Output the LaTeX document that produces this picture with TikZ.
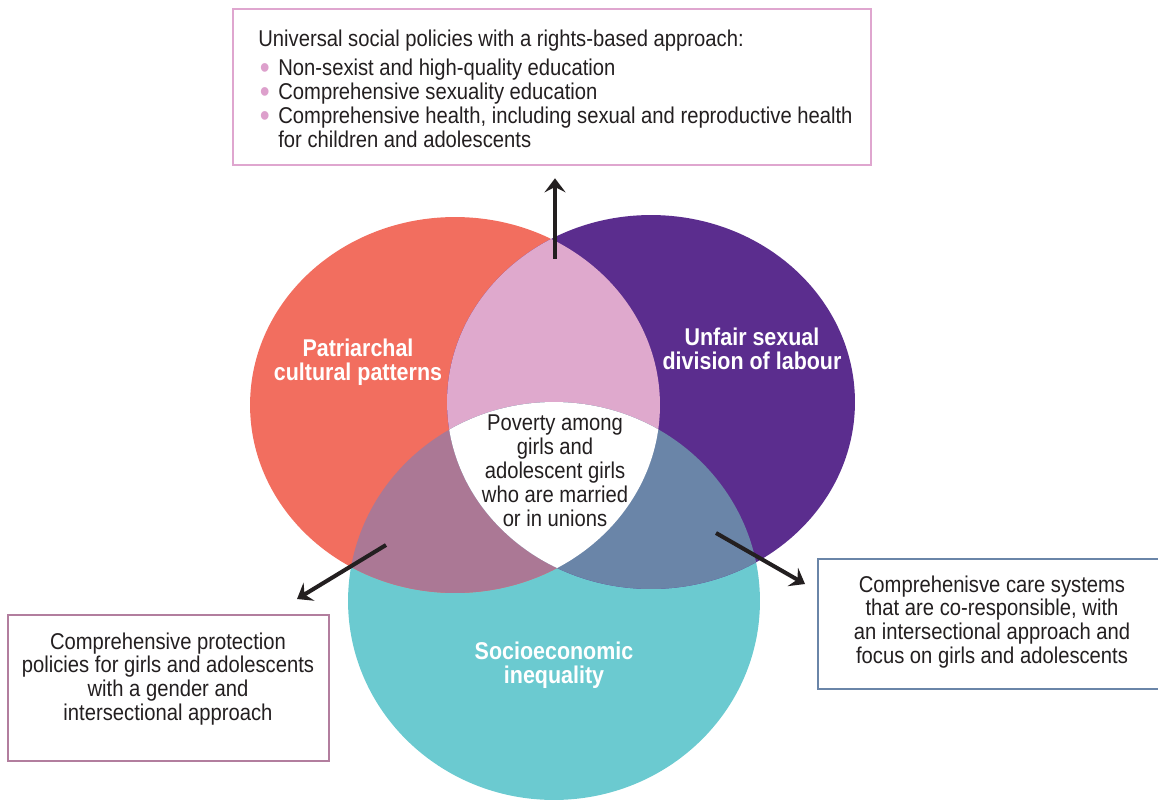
\documentclass[tikz,border=0pt]{standalone}
\usepackage{fontspec}
\setmainfont{Liberation Sans}[FakeStretch=0.885]
\usetikzlibrary{arrows.meta}
\definecolor{coral}{HTML}{F26E5F}
\definecolor{purp}{HTML}{5B2D8E}
\definecolor{pinkl}{HTML}{DFA9CD}
\definecolor{mauve}{HTML}{AB7895}
\definecolor{bgray}{HTML}{6A85A8}
\definecolor{teal}{HTML}{6BCAD0}
\definecolor{txtc}{HTML}{231F20}
\definecolor{pinkb}{HTML}{DFA6CF}
\definecolor{mauveb}{HTML}{B27E9E}
\definecolor{bullc}{HTML}{DDA0CC}
\newcommand{\mytxt}{\fontsize{13pt}{13.6pt}\selectfont}
\newcommand{\mybold}{\fontsize{13.8pt}{13.6pt}\selectfont\bfseries}
\newcommand{\mybul}{\makebox[0.4cm][l]{\hspace{0.03cm}\smash{\raisebox{-0.05cm}{\scalebox{1.4}{\color{bullc}\textbullet}}}}}
\begin{document}
\begin{tikzpicture}[x=0.02cm,y=-0.02cm,
  framebox/.style={draw, line width=1.5pt, fill=white, inner sep=0pt},
  bodytext/.style={text=txtc, font=\mytxt, inner sep=0pt},
  ringlabel/.style={text=white, font=\mybold, align=center, inner sep=0pt},
  bigarrow/.style={line width=2.3pt, draw=txtc, -{Stealth[length=8pt,width=12pt,inset=3pt]}}]
\useasboundingbox (0,0) rectangle (1158,800);
% base ellipses
\fill[teal] (554,601) ellipse [x radius=4.12cm, y radius=3.98cm];
\fill[coral] (455,405) ellipse [x radius=4.1cm, y radius=3.76cm];
\fill[purp] (651,402) ellipse [x radius=4.08cm, y radius=3.74cm];
% pairwise overlaps
\begin{scope}
  \clip (455,405) ellipse [x radius=4.1cm, y radius=3.76cm];
  \fill[pinkl] (651,402) ellipse [x radius=4.08cm, y radius=3.74cm];
  \fill[mauve] (554,601) ellipse [x radius=4.12cm, y radius=3.98cm];
\end{scope}
\begin{scope}
  \clip (651,402) ellipse [x radius=4.08cm, y radius=3.74cm];
  \fill[bgray] (554,601) ellipse [x radius=4.12cm, y radius=3.98cm];
\end{scope}
\begin{scope}
  \clip (455,405) ellipse [x radius=4.1cm, y radius=3.76cm];
  \clip (651,402) ellipse [x radius=4.08cm, y radius=3.74cm];
  \fill[white] (554,601) ellipse [x radius=4.12cm, y radius=3.98cm];
\end{scope}
% labels in rings
\node[ringlabel] (patr) at (358,362) {Patriarchal\\cultural patterns};
\node[ringlabel] (unfair) at (752,349) {Unfair sexual\\division of labour};
\node[ringlabel] (socio) at (554,665) {Socioeconomic\\inequality};
\node[bodytext, align=center] (poverty) at (555,471) {Poverty among\\girls and\\adolescent girls\\who are married\\or in unions};
% top box
\node[framebox, draw=pinkb, minimum width=12.76cm, minimum height=3.12cm] (topbox) at (552,87) {};
\node[bodytext, anchor=north west, align=left] (toptext) at (258,30) {Universal social policies with a rights-based approach:\\[0.1cm]
\mybul Non-sexist and high-quality education\\
\mybul Comprehensive sexuality education\\
\mybul Comprehensive health, including sexual and reproductive health\\
\hspace{0.4cm}for children and adolescents};
% left box
\node[framebox, draw=mauveb, minimum width=6.42cm, minimum height=2.92cm] (leftbox) at (168.5,688) {};
\node[bodytext, align=center] (lefttext) at (168,679) {Comprehensive protection\\policies for girls and adolescents\\with a gender and\\intersectional approach};
% right box
\node[framebox, draw=bgray, minimum width=7.04cm, minimum height=2.6cm] (rightbox) at (994,624) {};
\node[bodytext, align=center] (righttext) at (992,622) {Comprehenisve care systems\\that are co-responsible, with\\an intersectional approach and\\focus on girls and adolescents};
% arrows
\coordinate (upS) at (555,259);
\coordinate (leftS) at (386,545);
\coordinate (leftE) at (297,599);
\coordinate (rightS) at (716,533);
\coordinate (rightE) at (805,584);
\draw[bigarrow, shorten >=0.24cm] (upS) -- (upS |- topbox.south);
\draw[bigarrow] (leftS) -- (leftE);
\draw[bigarrow] (rightS) -- (rightE);
\end{tikzpicture}
\end{document}
